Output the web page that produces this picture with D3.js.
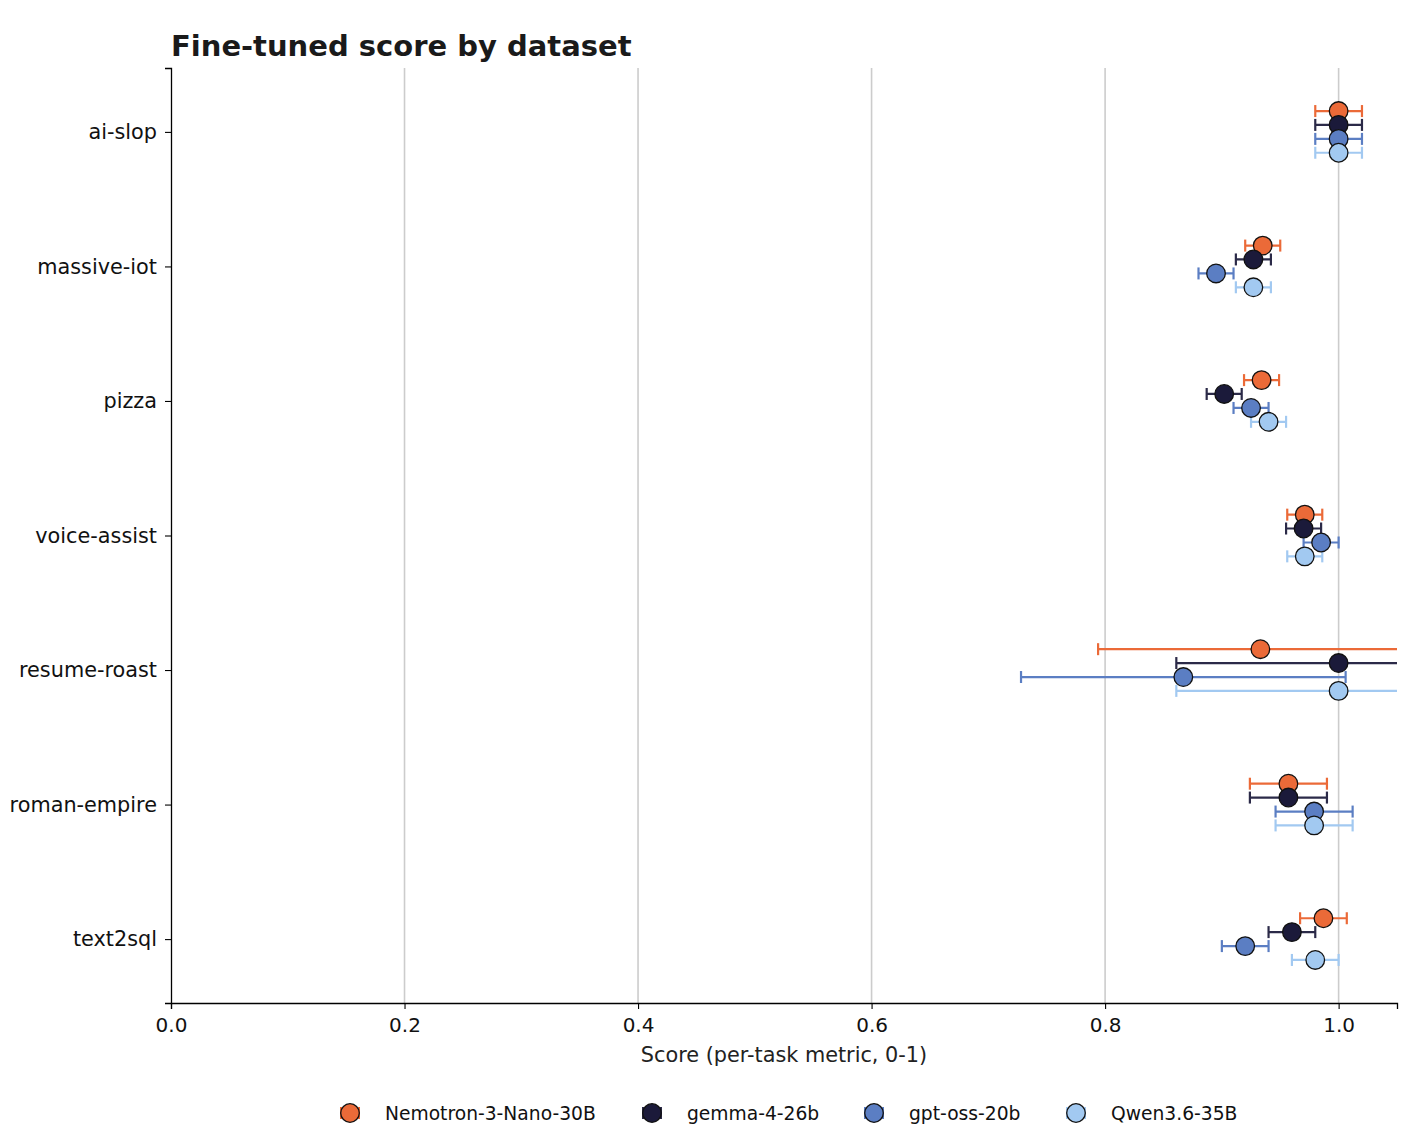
<!DOCTYPE html>
<html>
<head>
<meta charset="utf-8">
<script src="https://cdn.jsdelivr.net/npm/d3@7"></script>
<style>
  body { margin: 0; background: #fff; }
  svg { font-family: "DejaVu Sans", sans-serif; }
</style>
</head>
<body>
<div id="chart"></div>
<script>
// datasets, top to bottom
let datasets = ['ai-slop', 'massive-iot', 'pizza', 'voice-assist', 'resume-roast', 'roman-empire', 'text2sql']
let models = ['Nemotron-3-Nano-30B', 'gemma-4-26b', 'gpt-oss-20b', 'Qwen3.6-35B']
let colors = ['#eb6a38', '#1b1a3a', '#5b7ec3', '#a2c9f1']
let barColors = ['#eb6a38', '#2b2a48', '#5b7ec3', '#a2c9f1']

// score per model, in dataset order
let nemotronScore = [1.0, 0.935, 0.934, 0.971, 0.933, 0.957, 0.987]
let gemmaScore    = [1.0, 0.927, 0.902, 0.970, 1.0, 0.957, 0.960]
let gptossScore   = [1.0, 0.895, 0.925, 0.985, 0.867, 0.979, 0.920]
let qwenScore     = [1.0, 0.927, 0.940, 0.971, 1.0, 0.979, 0.980]

// error bar half widths
let nemotronErr = [0.02, 0.015, 0.015, 0.015, 0.139, 0.033, 0.020]
let gemmaErr    = [0.02, 0.015, 0.015, 0.015, 0.139, 0.033, 0.020]
let gptossErr   = [0.02, 0.015, 0.015, 0.015, 0.139, 0.033, 0.020]
let qwenErr     = [0.02, 0.015, 0.015, 0.015, 0.139, 0.033, 0.020]

let xTicks = [0, 0.2, 0.4, 0.6, 0.8, 1.0]
let offsets = [-0.155, -0.052, 0.052, 0.155]

let scores = [nemotronScore, gemmaScore, gptossScore, qwenScore]
let errs = [nemotronErr, gemmaErr, gptossErr, qwenErr]

let width = 1425, height = 1140
let margin = {left: 171, right: 28, top: 68, bottom: 137}

let svg = d3.select('#chart').append('svg')
  .attr('width', width)
  .attr('height', height)

let x = d3.scaleLinear().domain([0, 1.05]).range([margin.left, width - margin.right])
let y = d3.scaleLinear().domain([-0.475, 6.475]).range([margin.top, height - margin.bottom])

// clip for the plot area
svg.append('clipPath').attr('id', 'plot-clip')
  .append('rect')
  .attr('x', margin.left).attr('y', margin.top)
  .attr('width', width - margin.right - margin.left)
  .attr('height', height - margin.bottom - margin.top)

// grid
svg.append('g').selectAll('line')
  .data(xTicks.filter(d => d > 0))
  .enter().append('line')
  .attr('x1', d => x(d)).attr('x2', d => x(d))
  .attr('y1', margin.top).attr('y2', height - margin.bottom)
  .style('stroke', '#cccccc')
  .style('stroke-width', 1.6)

let plot = svg.append('g').attr('clip-path', 'url(#plot-clip)')

models.forEach(function (m, k) {
  let g = plot.append('g').attr('class', 'series')
  let rows = datasets.map(function (d, i) {
    return {ds: d, i: i, v: scores[k][i], e: errs[k][i]}
  })
  let bars = g.selectAll('.err').data(rows).enter().append('g').attr('class', 'err')
  bars.append('line')
    .attr('x1', d => x(d.v - d.e)).attr('x2', d => x(d.v + d.e))
    .attr('y1', d => y(d.i + offsets[k])).attr('y2', d => y(d.i + offsets[k]))
  bars.append('line')
    .attr('x1', d => x(d.v - d.e)).attr('x2', d => x(d.v - d.e))
    .attr('y1', d => y(d.i + offsets[k]) - 6).attr('y2', d => y(d.i + offsets[k]) + 6)
  bars.append('line')
    .attr('x1', d => x(d.v + d.e)).attr('x2', d => x(d.v + d.e))
    .attr('y1', d => y(d.i + offsets[k]) - 6).attr('y2', d => y(d.i + offsets[k]) + 6)
  bars.selectAll('line')
    .style('stroke', barColors[k])
    .style('stroke-width', 2.2)
})

models.forEach(function (m, k) {
  plot.append('g').selectAll('circle')
    .data(datasets.map((d, i) => ({i: i, v: scores[k][i]})))
    .enter().append('circle')
    .attr('cx', d => x(d.v))
    .attr('cy', d => y(d.i + offsets[k]))
    .attr('r', 9.3)
    .style('fill', colors[k])
    .style('stroke', '#111')
    .style('stroke-width', 1.3)
})

// axes
let xAxis = svg.append('g')
  .attr('transform', 'translate(0,' + (height - margin.bottom) + ')')
  .call(d3.axisBottom(x).tickValues(xTicks).tickFormat(d3.format('.1f')).tickSizeOuter(0).tickSize(6).tickPadding(8))
let yAxis = svg.append('g')
  .attr('transform', 'translate(' + margin.left + ',0)')
  .call(d3.axisLeft(y).tickValues(d3.range(datasets.length)).tickFormat(i => datasets[i]).tickSizeOuter(0).tickSize(6).tickPadding(8))

svg.selectAll('.domain').style('stroke', '#000').style('stroke-width', 1.3)
svg.selectAll('.tick line').style('stroke', '#000').style('stroke-width', 1.1)
xAxis.selectAll('text').style('font-size', '20px').style('font-family', 'DejaVu Sans').attr('dy', '0.75em').style('fill', '#111')
yAxis.selectAll('text').style('font-size', '20.8px').style('font-family', 'DejaVu Sans').style('fill', '#111')

svg.append('text')
  .attr('x', x(0.525)).attr('y', 1062)
  .style('text-anchor', 'middle')
  .style('font-size', '20.8px')
  .style('fill', '#222')
  .text('Score (per-task metric, 0-1)')

svg.append('text')
  .attr('x', margin.left).attr('y', 56)
  .style('font-size', '29px')
  .style('font-weight', 'bold')
  .style('fill', '#1a1a1a')
  .text('Fine-tuned score by dataset')

// legend
let legendX = [350, 652, 874, 1076]
let legend = svg.append('g').selectAll('.leg')
  .data(models).enter().append('g').attr('class', 'leg')
  .attr('transform', (d, k) => 'translate(' + legendX[k] + ',1113)')
legend.append('line').attr('x1', -9).attr('x2', 9).attr('y1', 0).attr('y2', 0)
  .style('stroke', (d, k) => barColors[k]).style('stroke-width', 2)
legend.append('line').attr('x1', -9).attr('x2', -9).attr('y1', -6).attr('y2', 6)
  .style('stroke', (d, k) => barColors[k]).style('stroke-width', 2)
legend.append('line').attr('x1', 9).attr('x2', 9).attr('y1', -6).attr('y2', 6)
  .style('stroke', (d, k) => barColors[k]).style('stroke-width', 2)
legend.append('circle').attr('r', 9.3)
  .style('fill', (d, k) => colors[k])
  .style('stroke', '#111').style('stroke-width', 1.3)
legend.append('text')
  .attr('x', 35).attr('y', 6.5)
  .style('font-size', '18.7px')
  .style('fill', '#111')
  .text(d => d)
</script>
</body>
</html>
